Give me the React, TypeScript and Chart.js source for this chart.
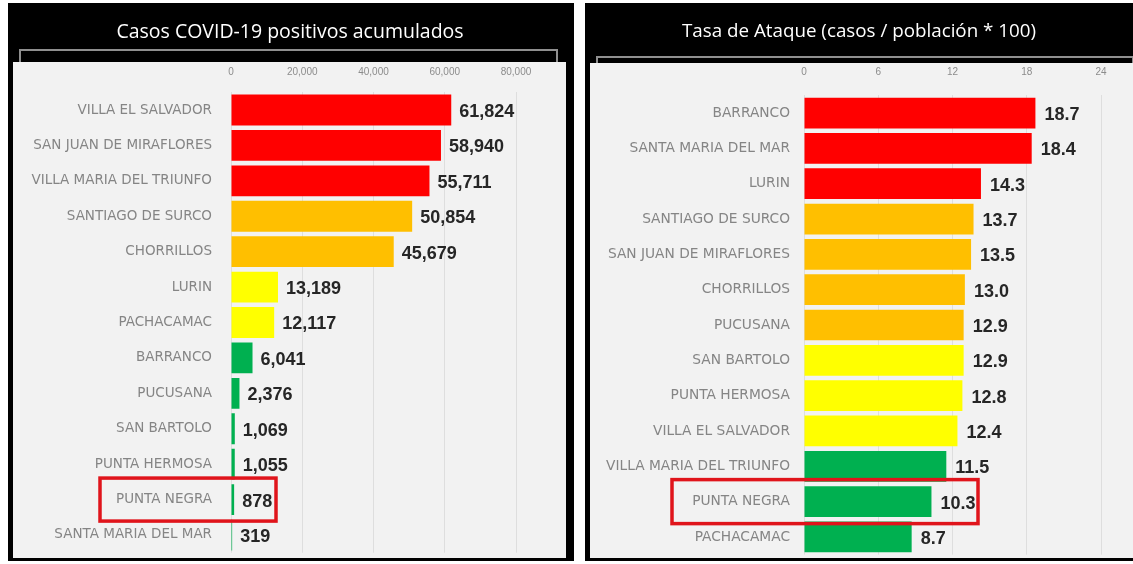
import React, { useEffect, useRef } from 'react';
import { Chart, registerables } from 'chart.js';

Chart.register(...registerables);

const leftTitle = 'Casos COVID-19 positivos acumulados';
const leftCategories = [
  'VILLA EL SALVADOR', 'SAN JUAN DE MIRAFLORES', 'VILLA MARIA DEL TRIUNFO', 'SANTIAGO DE SURCO',
  'CHORRILLOS', 'LURIN', 'PACHACAMAC', 'BARRANCO', 'PUCUSANA', 'SAN BARTOLO',
  'PUNTA HERMOSA', 'PUNTA NEGRA', 'SANTA MARIA DEL MAR',
];
const leftValues = [61824, 58940, 55711, 50854, 45679, 13189, 12117, 6041, 2376, 1069, 1055, 878, 319];
const leftColors = [
  '#ff0000', '#ff0000', '#ff0000', '#ffbf00', '#ffbf00', '#ffff00', '#ffff00',
  '#00b050', '#00b050', '#00b050', '#00b050', '#00b050', '#00b050',
];
const leftTicks = [0, 20000, 40000, 60000, 80000];

const rightTitle = 'Tasa de Ataque (casos / población * 100)';
const rightCategories = [
  'BARRANCO', 'SANTA MARIA DEL MAR', 'LURIN', 'SANTIAGO DE SURCO', 'SAN JUAN DE MIRAFLORES',
  'CHORRILLOS', 'PUCUSANA', 'SAN BARTOLO', 'PUNTA HERMOSA', 'VILLA EL SALVADOR',
  'VILLA MARIA DEL TRIUNFO', 'PUNTA NEGRA', 'PACHACAMAC',
];
const rightValues = [18.7, 18.4, 14.3, 13.7, 13.5, 13.0, 12.9, 12.9, 12.8, 12.4, 11.5, 10.3, 8.7];
const rightColors = [
  '#ff0000', '#ff0000', '#ff0000', '#ffbf00', '#ffbf00', '#ffbf00', '#ffbf00',
  '#ffff00', '#ffff00', '#ffff00', '#00b050', '#00b050', '#00b050',
];
const rightTicks = [0, 6, 12, 18, 24];

const highlightCategory = 'PUNTA NEGRA';

type PanelProps = {
  title: string;
  titleSize: number;
  titleX: number;
  categories: string[];
  values: number[];
  colors: string[];
  ticks: number[];
  fmtTick: (v: number) => string;
  fmtValue: (v: number) => string;
  left: number;
  width: number;
  height: number;
  inner: { x: number; y: number; w: number; h: number };
  lineY: number;
  lineX1: number;
  lineX2: number;
  chartLeft: number;
  padRight: number;
  chartTop: number;
  padBottom: number;
  tickPad: number;
  labelPad: number;
  labelSize: number;
  valueOffset: number;
  boxLeft: number;
  boxRight: number;
  boxHalf: number;
};

function Panel(p: PanelProps) {
  const ref = useRef<HTMLCanvasElement | null>(null);
  useEffect(() => {
    if (!ref.current) return;
    const bg = {
      id: 'panelBg',
      beforeDraw(chart: any) {
        const { ctx, width, height } = chart;
        ctx.save();
        ctx.fillStyle = '#000000';
        ctx.fillRect(0, 0, width, height);
        ctx.fillStyle = '#f2f2f2';
        ctx.fillRect(p.inner.x, p.inner.y, p.inner.w, p.inner.h);
        ctx.strokeStyle = '#8f8f8f';
        ctx.lineWidth = 2;
        ctx.beginPath();
        ctx.moveTo(p.lineX1, p.inner.y);
        ctx.lineTo(p.lineX1, p.lineY);
        ctx.lineTo(p.lineX2, p.lineY);
        ctx.lineTo(p.lineX2, p.inner.y);
        ctx.stroke();
        ctx.fillStyle = '#ffffff';
        ctx.font = `${p.titleSize}px "Open Sans", sans-serif`;
        ctx.textAlign = 'center';
        ctx.textBaseline = 'middle';
        ctx.fillText(p.title, p.titleX, 29);
        ctx.restore();
      },
    };
    const valueLabels = {
      id: 'valueLabels',
      afterDatasetsDraw(chart: any) {
        const { ctx } = chart;
        const meta = chart.getDatasetMeta(0);
        ctx.save();
        ctx.font = 'bold 18px "Liberation Sans", Arial, sans-serif';
        ctx.fillStyle = '#262626';
        ctx.textAlign = 'left';
        ctx.textBaseline = 'middle';
        meta.data.forEach((bar: any, i: number) => {
          ctx.fillText(p.fmtValue(p.values[i]), bar.x + p.valueOffset, bar.y + 2);
        });
        ctx.restore();
      },
    };
    const redBox = {
      id: 'redBox',
      afterDraw(chart: any) {
        const idx = p.categories.indexOf(highlightCategory);
        if (idx < 0) return;
        const { ctx, chartArea } = chart;
        const y = chart.scales.y.getPixelForValue(idx);
        ctx.save();
        ctx.strokeStyle = '#e0141b';
        ctx.lineWidth = 3.5;
        ctx.strokeRect(
          chartArea.left - p.boxLeft,
          y - p.boxHalf,
          p.boxLeft + p.boxRight,
          p.boxHalf * 2,
        );
        ctx.restore();
      },
    };
    const chart = new Chart(ref.current, {
      type: 'bar',
      data: {
        labels: p.categories,
        datasets: [
          {
            data: p.values,
            backgroundColor: p.colors,
            borderWidth: 0,
            categoryPercentage: 0.87,
            barPercentage: 1,
          },
        ],
      },
      options: {
        indexAxis: 'y',
        responsive: false,
        animation: false,
        maintainAspectRatio: false,
        layout: { padding: { left: 0, right: p.padRight, top: 0, bottom: p.padBottom } },
        plugins: {
          legend: { display: false },
          tooltip: { enabled: false },
          title: { display: false },
        },
        scales: {
          x: {
            position: 'top',
            min: p.ticks[0],
            max: p.ticks[p.ticks.length - 1],
            afterBuildTicks: (scale: any) => {
              scale.ticks = p.ticks.map((v) => ({ value: v }));
            },
            afterFit: (scale: any) => {
              scale.height = p.chartTop;
              scale.paddingLeft = 0;
              scale.paddingRight = 0;
            },
            grid: { color: '#dedede', lineWidth: 1, drawTicks: false },
            border: { display: false },
            ticks: {
              padding: p.tickPad,
              color: '#8c8c8c',
              font: { family: '"Liberation Sans", Arial, sans-serif', size: 10, lineHeight: 1.2 },
              callback: (v: any) => p.fmtTick(Number(v)),
            },
          },
          y: {
            afterFit: (scale: any) => {
              scale.width = p.chartLeft;
              scale.paddingTop = 0;
              scale.paddingBottom = 0;
            },
            grid: { display: false, drawTicks: false },
            border: { display: false },
            ticks: {
              padding: p.labelPad,
              color: '#858585',
              font: { family: '"DejaVu Sans", sans-serif', size: p.labelSize },
            },
          },
        },
      },
      plugins: [bg, valueLabels, redBox],
    });
    return () => chart.destroy();
  }, []);
  return (
    <canvas
      ref={ref}
      width={p.width}
      height={p.height}
      style={{ position: 'absolute', left: p.left, top: 3, width: p.width, height: p.height }}
    />
  );
}

export default function App() {
  return (
    <div style={{ position: 'fixed', left: 0, top: 0, width: 1133, height: 564, background: '#ffffff', overflow: 'hidden' }}>
      <Panel
        title={leftTitle}
        titleSize={19.5}
        titleX={282}
        categories={leftCategories}
        values={leftValues}
        colors={leftColors}
        ticks={leftTicks}
        fmtTick={(v) => v.toLocaleString('en-US')}
        fmtValue={(v) => v.toLocaleString('en-US')}
        left={8}
        width={566}
        height={558}
        inner={{ x: 5, y: 59, w: 553, h: 496 }}
        lineY={47}
        lineX1={12}
        lineX2={549}
        chartLeft={223}
        padRight={58}
        chartTop={89.3}
        padBottom={8.3}
        tickPad={14.3}
        labelPad={19}
        labelSize={13.5}
        valueOffset={8}
        boxLeft={131}
        boxRight={45}
        boxHalf={21.5}
      />
      <Panel
        title={rightTitle}
        titleSize={18.8}
        titleX={274}
        categories={rightCategories}
        values={rightValues}
        colors={rightColors}
        ticks={rightTicks}
        fmtTick={(v) => String(v)}
        fmtValue={(v) => v.toFixed(1)}
        left={585}
        width={548}
        height={558}
        inner={{ x: 5, y: 60, w: 543, h: 495 }}
        lineY={54}
        lineX1={12}
        lineX2={548}
        chartLeft={219}
        padRight={32}
        chartTop={92.4}
        padBottom={6.4}
        tickPad={17.4}
        labelPad={14}
        labelSize={13.75}
        valueOffset={9}
        boxLeft={132}
        boxRight={174}
        boxHalf={22}
      />
    </div>
  );
}
